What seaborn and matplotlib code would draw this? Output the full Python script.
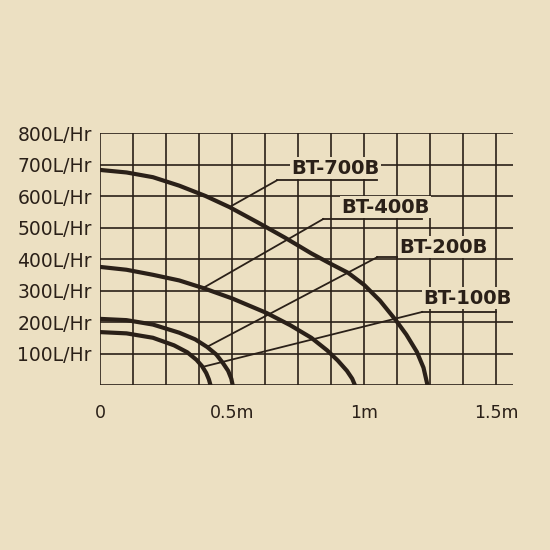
import matplotlib
matplotlib.use("Agg")
import matplotlib.pyplot as plt
import seaborn as sns
import pandas as pd

# curve points (head in m, flow in L/Hr)
bt700_x = [0, 0.1, 0.2, 0.3, 0.4, 0.49, 0.6, 0.7, 0.8, 0.88, 0.94, 1.0, 1.06, 1.12, 1.16, 1.2, 1.225, 1.24]
bt700_y = [683, 675, 660, 633, 600, 565, 515, 468, 418, 382, 356, 318, 268, 206, 160, 105, 55, 0]
bt400_x = [0, 0.1, 0.2, 0.3, 0.39, 0.5, 0.63, 0.72, 0.8, 0.86, 0.9, 0.935, 0.955, 0.965]
bt400_y = [375, 366, 350, 332, 308, 275, 229, 190, 150, 110, 78, 45, 20, 0]
bt200_x = [0, 0.1, 0.2, 0.3, 0.36, 0.405, 0.44, 0.465, 0.485, 0.497, 0.502]
bt200_y = [210, 206, 192, 166, 145, 121, 97, 70, 45, 20, 0]
bt100_x = [0, 0.1, 0.2, 0.28, 0.33, 0.365, 0.386, 0.402, 0.412, 0.418]
bt100_y = [168, 164, 150, 126, 104, 80, 60, 38, 18, 0]

models = ["BT-700B", "BT-400B", "BT-200B", "BT-100B"]
label_xy = [(0.89, 689), (1.08, 565), (1.30, 438), (1.39, 276)]
underline = [(0.67, 1.05, 650), (0.845, 1.22, 527), (1.05, 1.43, 406), (1.22, 1.50, 232)]
leader_to = [(0.49, 565), (0.39, 308), (0.405, 121), (0.386, 57)]

y_ticks = [100, 200, 300, 400, 500, 600, 700, 800]
y_labels = [f"{v}L/Hr" for v in y_ticks]
x_ticks = [0, 0.5, 1.0, 1.5]
x_labels = ["0", "0.5m", "1m", "1.5m"]

frames = []
for name, xs, ys in zip(models, [bt700_x, bt400_x, bt200_x, bt100_x],
                        [bt700_y, bt400_y, bt200_y, bt100_y]):
    frames.append(pd.DataFrame({"head": xs, "flow": ys, "model": name}))
df = pd.concat(frames)

bg = "#ece0c2"
ink = "#2a2018"
fig = plt.figure(figsize=(5.5, 5.5), dpi=100, facecolor=bg)
ax = fig.add_axes([0.182, 0.30, 0.75, 0.458])
ax.set_facecolor(bg)

# grid
for gx in [i * 0.125 for i in range(13)]:
    ax.axvline(gx, color=ink, lw=1.2, zorder=1)
for gy in range(0, 801, 100):
    ax.axhline(gy, color=ink, lw=1.2, zorder=1)

sns.lineplot(data=df, x="head", y="flow", units="model", estimator=None,
             color=ink, lw=3, sort=False, ax=ax, zorder=3)

for name, (tx, ty), (u0, u1, uy), (lx, ly) in zip(models, label_xy, underline, leader_to):
    ax.plot([u0, u1], [uy, uy], color=ink, lw=1.3, zorder=2)
    ax.plot([u0, lx], [uy, ly], color=ink, lw=1.3, zorder=2)
    ax.text(tx, ty, name, ha="center", va="center", fontsize=14, fontweight="bold",
            color=ink, bbox=dict(facecolor=bg, edgecolor="none", pad=1), zorder=4)

ax.set_xlim(0, 1.5625)
ax.set_ylim(0, 800)
ax.set_xticks(x_ticks)
ax.set_xticklabels(x_labels, fontsize=12.5, color=ink)
ax.set_yticks(y_ticks)
ax.set_yticklabels(y_labels, fontsize=13.5, color=ink)
ax.tick_params(length=0, pad=6)
ax.tick_params(axis="x", pad=14)
ax.set_xlabel("")
ax.set_ylabel("")
for s in ax.spines.values():
    s.set_visible(False)

fig.savefig("out.png", facecolor=bg)
